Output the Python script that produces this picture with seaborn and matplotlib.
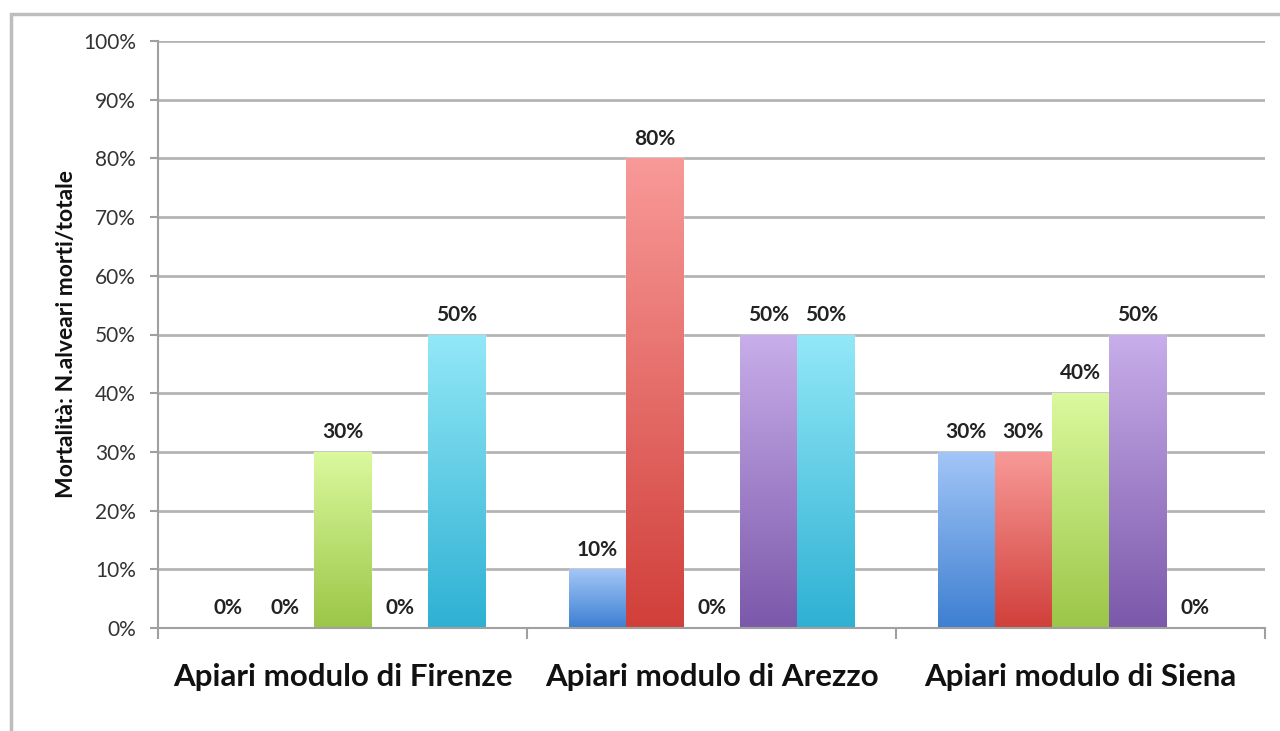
import numpy as np
import pandas as pd
import matplotlib
matplotlib.use("Agg")
import matplotlib.pyplot as plt
import seaborn as sns
from matplotlib.colors import LinearSegmentedColormap
from matplotlib.patches import Rectangle
from matplotlib.ticker import PercentFormatter, FixedLocator

# --- data ---
groups = ["Apiari modulo di Firenze", "Apiari modulo di Arezzo", "Apiari modulo di Siena"]
series = ["Serie 1", "Serie 2", "Serie 3", "Serie 4", "Serie 5"]
firenze = [0, 0, 30, 0, 50]
arezzo = [10, 80, 0, 50, 50]
siena = [30, 30, 40, 50, 0]

# gradient colours per series: top -> bottom
top_colors = ["#a3c6f7", "#f89a98", "#dbf99e", "#c8aeea", "#93e8f7"]
bottom_colors = ["#3d7fd1", "#d13f3a", "#9bc647", "#7b58aa", "#2eb1d3"]

rows = []
for g, vals in zip(groups, [firenze, arezzo, siena]):
    for s, v in zip(series, vals):
        rows.append({"gruppo": g, "serie": s, "mortalita": v})
df = pd.DataFrame(rows)

sns.set_style("white")
plt.rcParams["font.family"] = ["Lato", "DejaVu Sans"]

fig = plt.figure(figsize=(12.8, 7.31), dpi=100)
ax = fig.add_axes([158 / 1280, 1 - 628 / 731, (1265 - 158) / 1280, (628 - 41) / 731])

sns.barplot(data=df, x="gruppo", y="mortalita", hue="serie", order=groups,
            hue_order=series, palette=bottom_colors, saturation=1,
            width=0.775, legend=False, ax=ax, zorder=2)

# vertical gradient fill on each bar
grad = np.linspace(1, 0, 256).reshape(-1, 1)
for i, cont in enumerate(ax.containers):
    cmap = LinearSegmentedColormap.from_list(f"g{i}", [bottom_colors[i], top_colors[i]])
    for bar in cont:
        h = bar.get_height()
        if h <= 0:
            continue
        x0 = bar.get_x()
        im = ax.imshow(grad, extent=[x0, x0 + bar.get_width(), 0, h],
                       aspect="auto", cmap=cmap, zorder=2.5, interpolation="bilinear")
        im.set_clip_path(bar)
    ax.bar_label(cont, labels=[f"{v:.0f}%" for v in cont.datavalues],
                 padding=7, fontsize=15, fontweight="bold", color="#222222")

ax.set_xlim(-0.5, 2.5)
ax.set_ylim(0, 100)
ax.yaxis.set_major_locator(FixedLocator(np.arange(0, 101, 10)))
ax.yaxis.set_major_formatter(PercentFormatter(decimals=0))
ax.yaxis.grid(True, color="#b4b4b4", lw=2)
ax.set_axisbelow(True)

ax.set_xlabel("")
ax.set_ylabel("Mortalità: N.alveari morti/totale", fontsize=16.5,
              fontweight="bold", labelpad=4, color="#111111")

ax.tick_params(axis="y", labelsize=15, length=6, width=1.5, color="#a0a0a0",
               labelcolor="#333333", left=True, pad=10)
ax.tick_params(axis="x", which="major", length=0, labelsize=22.5, pad=25,
               labelcolor="#111111")
ax.set_xticks([-0.5, 0.5, 1.5, 2.5], minor=True)
ax.tick_params(axis="x", which="minor", length=8, width=1.5, color="#a0a0a0", bottom=True)
for lbl in ax.get_xticklabels():
    lbl.set_fontweight("bold")

for side in ["top", "right"]:
    ax.spines[side].set_visible(False)
for side in ["left", "bottom"]:
    ax.spines[side].set_color("#a0a0a0")
    ax.spines[side].set_linewidth(1.5)

# outer chart frame (only top and left visible in the reference crop)
fig.patches.append(Rectangle((11 / 1280, -0.1), 1.2, 1 - 14 / 731 + 0.1,
                             transform=fig.transFigure, fill=False,
                             ec="#bdbdbd", lw=2.5))

fig.savefig("out.png", dpi=100)
